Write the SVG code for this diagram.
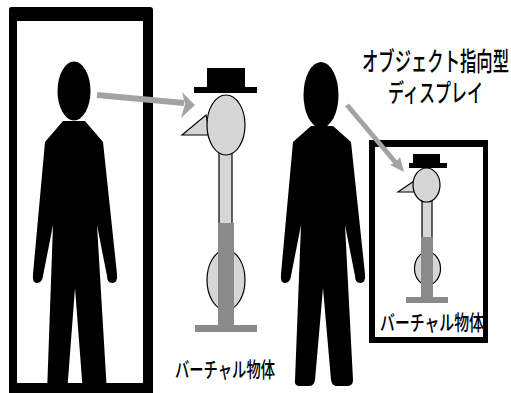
<svg xmlns="http://www.w3.org/2000/svg" width="511" height="393" viewBox="0 0 511 393">
  <style>
    .ink { fill: #000; }
    .light { fill: #d6d6d6; stroke: #000; stroke-width: 1.2; }
    .pole { fill: #8a8a8a; }
    .arrow { fill: #a3a3a3; }
    .shaft { stroke: #a3a3a3; fill: none; stroke-linecap: butt; }
    .jp { font-family: "Noto Sans CJK JP", "Noto Sans CJK SC", sans-serif; font-weight: 500; fill: #000; }
  </style>

  <!-- mirror frame around the viewer -->
  <g id="mirror">
    <path class="ink" fill-rule="evenodd" d="M11,7 H150 Q153,7 153,10 V400 H9 V10 Q9,7 11,7 Z M17,21 V383 H143 V21 Z"/>
  </g>

  <!-- viewer on the left -->
  <g id="person-left">
    <ellipse class="ink" cx="74" cy="91" rx="16.5" ry="29.5"/>
    <path class="ink" d="M63,121 L85,121 L103,142 L117,274 Q118,283 112,283 Q107,283 107,276 L97,225 L107,393 L83,393 L75,288 L67,393 L47,393 L53,225 L43,276 Q42,283 37,283 Q32,283 33,274 L45,142 Z"/>
  </g>

  <!-- virtual object, full size -->
  <g id="virtual-object">
    <rect class="ink" x="207" y="68" width="38" height="20"/>
    <rect class="ink" x="194" y="87" width="63" height="6"/>
    <polygon class="light" points="182,135 206,115 210,135"/>
    <rect class="light" x="219" y="152" width="13" height="72"/>
    <ellipse class="light" cx="226" cy="125" rx="19" ry="30"/>
    <ellipse class="light" cx="226" cy="280" rx="19" ry="30"/>
    <rect class="pole" x="218" y="223" width="16" height="103"/>
    <rect class="pole" x="195" y="325" width="62" height="7"/>
  </g>
  <g id="label-virtual">
    <text class="jp" x="175" y="377" font-size="21" textLength="100" lengthAdjust="spacingAndGlyphs">バーチャル物体</text>
  </g>

  <!-- viewer on the right -->
  <g id="person-right">
    <ellipse class="ink" cx="321" cy="95" rx="17.5" ry="33"/>
    <path class="ink" d="M311,126 L333,126 L351,142 L365,274 Q366,283 360,283 Q355,283 355,276 L345,225 L353,380 Q353,386 347,386 L337,386 Q332,386 331,380 L323,288 L315,380 Q314,386 309,386 L300,386 Q294,386 295,380 L301,225 L291,276 Q290,283 285,283 Q280,283 281,274 L293,142 Z"/>
  </g>

  <!-- object-oriented display -->
  <g id="display">
    <path class="ink" fill-rule="evenodd" d="M369,140 H488 V343 H369 Z M375,147 V337 H483 V147 Z"/>
    <rect class="ink" x="413" y="154" width="27" height="10"/>
    <rect class="ink" x="409" y="163" width="38" height="5"/>
    <polygon class="light" points="398,192 414,181 416,192"/>
    <rect class="light" x="422" y="200" width="10" height="38"/>
    <ellipse class="light" cx="426.5" cy="185" rx="13.5" ry="17"/>
    <ellipse class="light" cx="427.5" cy="268.5" rx="13" ry="16.5"/>
    <rect class="pole" x="421" y="237" width="12" height="62"/>
    <rect class="pole" x="406" y="297" width="42" height="6"/>
    <text class="jp" x="380" y="330" font-size="21" textLength="104" lengthAdjust="spacingAndGlyphs">バーチャル物体</text>
  </g>

  <!-- display caption -->
  <g id="label-display">
    <text class="jp" x="362" y="71" font-size="26" textLength="147" lengthAdjust="spacingAndGlyphs">オブジェクト指向型</text>
    <text class="jp" x="388" y="102" font-size="25" textLength="95" lengthAdjust="spacingAndGlyphs">ディスプレイ</text>
  </g>

  <!-- lines of sight -->
  <g id="connectors">
    <line class="shaft" x1="97" y1="95" x2="184" y2="103" stroke-width="6"/>
    <polygon class="arrow" points="195,105 182,92 185,104 181,118"/>
    <line class="shaft" x1="347" y1="105" x2="396" y2="163" stroke-width="5"/>
    <polygon class="arrow" points="404,172 390,165 396,162 400,157"/>
  </g>
</svg>
